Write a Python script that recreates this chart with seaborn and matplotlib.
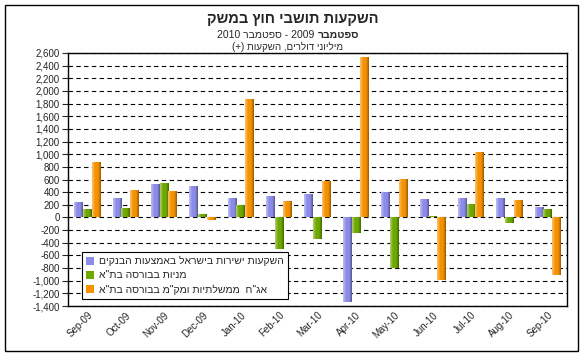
import re
import numpy as np
import matplotlib
matplotlib.use("Agg")
import matplotlib.pyplot as plt
import matplotlib.ticker as mticker
import matplotlib.colors as mcolors
from matplotlib.patches import Rectangle, Patch
import seaborn as sns
import pandas as pd

months = ["Sep-09", "Oct-09", "Nov-09", "Dec-09", "Jan-10", "Feb-10", "Mar-10",
          "Apr-10", "May-10", "Jun-10", "Jul-10", "Aug-10", "Sep-10"]
direct_banks = [240, 305, 525, 495, 315, 335, 365, -1340, 395, 290, 300, 310, 165]
shares_tase = [130, 150, 545, 50, 190, -505, -340, -240, -805, 30, 220, -90, 130]
bonds_tase = [880, 440, 425, -45, 1880, 260, 570, 2540, 615, -990, 1040, 280, -905]

series_names = ["השקעות ישירות בישראל באמצעות הבנקים",
                "מניות בבורסה בת\"א",
                "אג\"ח  ממשלתיות ומק\"מ בבורסה בת\"א"]
colors = ["#8C8CE8", "#6EA800", "#F59200"]

title = "השקעות תושבי חוץ במשק"
sub_word = "ספטמבר"
sub_rest = "2009 - ספטמבר 2010"
units = "מיליוני דולרים, השקעות (+)"


def vis(s):
    """Visual (left-to-right) order of an RTL string, keeping digit runs LTR."""
    r = s[::-1].translate(str.maketrans("()", ")("))
    return re.sub(r"[0-9][0-9,.]*", lambda m: m.group(0)[::-1], r)


def gradient_row(color, n=32):
    base = np.array(mcolors.to_rgb(color))
    light = base + (1 - base) * 0.45
    dark = base * 0.62
    t = np.linspace(0, 1, n)
    rows = []
    for ti in t:
        if ti < 0.35:
            a = ti / 0.35
            c = light * (1 - a) + base * a
        elif ti < 0.7:
            c = base
        else:
            a = (ti - 0.7) / 0.3
            c = base * (1 - a) + dark * a
        rows.append(c)
    return np.array(rows)[None, :, :]


df = pd.DataFrame({
    "month": months * 3,
    "value": direct_banks + shares_tase + bonds_tase,
    "series": [series_names[0]] * 13 + [series_names[1]] * 13 + [series_names[2]] * 13,
})

sns.set_style("white")
plt.rcParams["font.family"] = ["Liberation Sans", "DejaVu Sans"]

fig = plt.figure(figsize=(5.84, 3.59), dpi=100)
ax = fig.add_axes([68 / 584, 1 - 306 / 359, (567 - 68) / 584, (306 - 53) / 359])

sns.barplot(data=df, x="month", y="value", hue="series", hue_order=series_names,
            palette=colors, width=0.68, ax=ax, linewidth=0, saturation=1,
            errorbar=None, legend=False)

bars = list(ax.patches)
for i, patch in enumerate(bars):
    patch.set_edgecolor("none")
    col = colors[i // len(months)]
    x0, y0 = patch.get_x(), patch.get_y()
    w, h = patch.get_width(), patch.get_height()
    im = ax.imshow(gradient_row(col), extent=[x0, x0 + w, min(y0, y0 + h), max(y0, y0 + h)],
                   aspect="auto", interpolation="bilinear", zorder=patch.get_zorder() + 0.1)
    im.set_clip_path(patch)

ax.set_ylim(-1400, 2600)
ax.set_xlim(-0.5, 12.5)
ax.set_aspect("auto")
ax.yaxis.set_major_locator(mticker.MultipleLocator(200))
ax.yaxis.set_major_formatter(mticker.FuncFormatter(lambda v, p: f"{int(v):,}"))
ax.grid(axis="y", color="black", linestyle=(0, (4, 3)), linewidth=0.8)
ax.set_axisbelow(True)
ax.set_xlabel("")
ax.set_ylabel("")
for s in ax.spines.values():
    s.set_color("black")
    s.set_linewidth(1.0)
    s.set_visible(True)
ax.tick_params(axis="y", which="major", length=4, width=0.8, direction="out",
               labelsize=7, pad=2, left=True)
ax.tick_params(axis="x", length=0, labelsize=7, pad=3)
plt.setp(ax.get_xticklabels(), rotation=45, ha="right", rotation_mode="anchor")

handles = [Patch(facecolor=c, edgecolor="none") for c in colors]
leg = ax.legend(handles, [vis(n) for n in series_names], loc="lower left",
                bbox_to_anchor=(0.028, 0.028), borderaxespad=0, fontsize=7.5,
                frameon=True, fancybox=False, handlelength=0.8, handleheight=0.8,
                handletextpad=0.4, labelspacing=0.4, borderpad=0.4)
leg.get_frame().set_edgecolor("black")
leg.get_frame().set_linewidth(0.8)
leg.get_frame().set_alpha(1)
leg.set_zorder(10)

fig.text(0.502, 1 - 19 / 359, vis(title), ha="center", va="center",
         fontsize=10.5, fontweight="bold")

# subtitle: the bold word sits visually at the right end
sub_y = 1 - 35 / 359
t1 = fig.text(0.5, sub_y, vis(sub_rest) + " ", ha="center", va="center", fontsize=7.5)
t2 = fig.text(0.5, sub_y, vis(sub_word), ha="left", va="center",
              fontsize=7.5, fontweight="bold")
fig.canvas.draw()
w1 = t1.get_window_extent().width
w2 = t2.get_window_extent().width
cx = 288 / 584 * fig.bbox.width
left = cx - (w1 + w2) / 2
t1.set_ha("left")
t1.set_x(left / fig.bbox.width)
t2.set_x((left + w1) / fig.bbox.width)

fig.text(0.493, 1 - 46.5 / 359, vis(units), ha="center", va="center", fontsize=7)

fig.patches.append(Rectangle((5 / 584, 1 - 351 / 359), (578 - 5) / 584, (351 - 5) / 359,
                             transform=fig.transFigure, fill=False, edgecolor="black",
                             linewidth=1.0))

fig.savefig("out.png", dpi=100, facecolor="white")
